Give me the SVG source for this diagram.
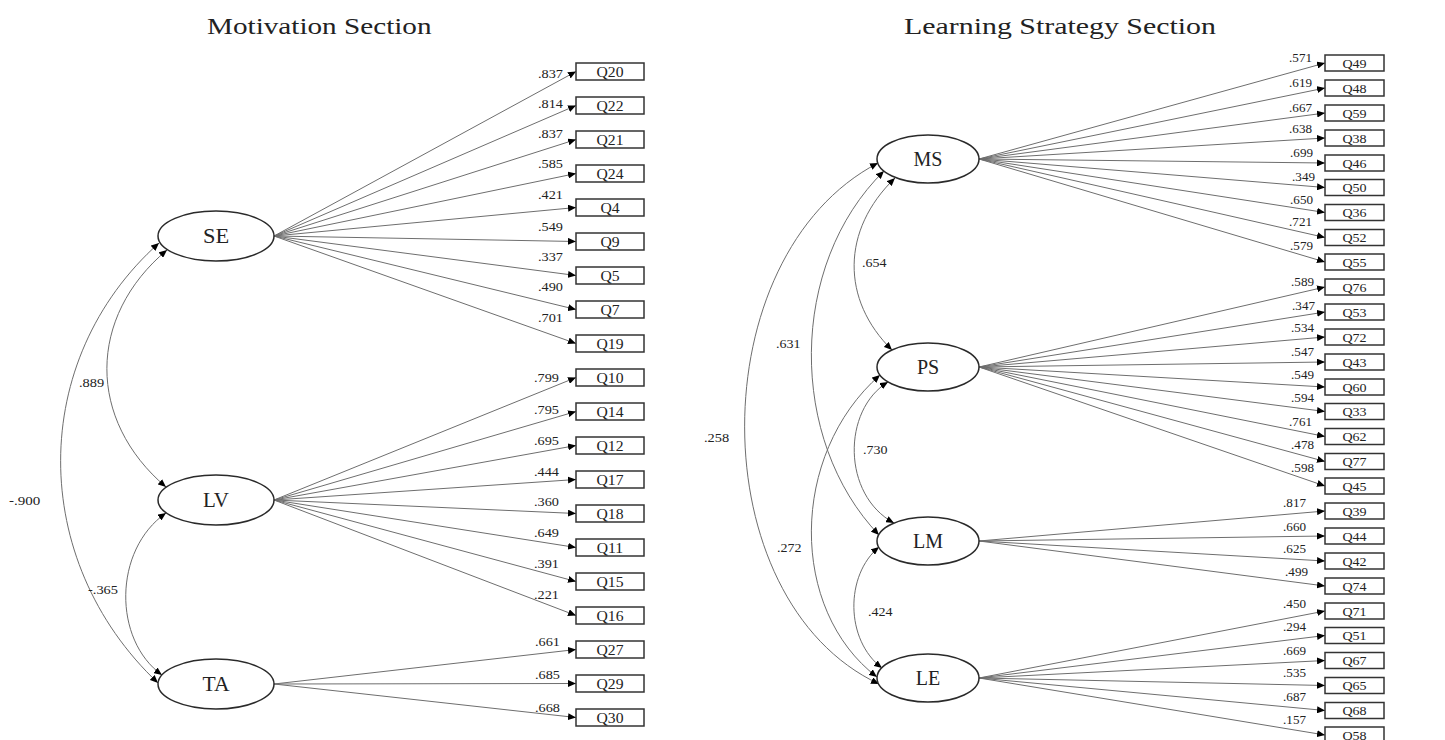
<svg xmlns="http://www.w3.org/2000/svg" width="1445" height="740" viewBox="0 0 1445 740">
<style>
.ln{stroke:#6e6e6e;stroke-width:1;fill:none;marker-end:url(#ah)}
.cv{stroke:#6e6e6e;stroke-width:1;fill:none;marker-start:url(#ah);marker-end:url(#ah)}
.box{fill:#fff;stroke:#333;stroke-width:1.5}
.lat{fill:#fff;stroke:#2a2a2a;stroke-width:1.5}
text{font-family:"Liberation Serif","Times New Roman",serif;fill:#222}
.bl{font-size:14px;text-anchor:middle}
.br{font-size:13px;text-anchor:middle}
.cf{font-size:12px;text-anchor:end}
.cr{font-size:11.5px;text-anchor:end}
.cov{font-size:12px}
.lt{font-size:20px;text-anchor:middle}
.tt{font-size:23px}
</style>
<defs>
<marker id="ah" viewBox="0 0 8 7" refX="8" refY="3.5" markerWidth="8" markerHeight="7" markerUnits="userSpaceOnUse" orient="auto-start-reverse"><path d="M0,0 L8,3.5 L0,7 z" fill="#000"/></marker>
</defs>
<rect width="1445" height="740" fill="#fff"/>
<text class="tt" transform="translate(207,34) scale(1.27,1)">Motivation Section</text>
<text class="tt" transform="translate(904,34) scale(1.3,1)">Learning Strategy Section</text>

<g id="connectors">
<path class="ln" d="M274,236 L576,71.5"/>
<path class="ln" d="M274,236 L576,105.5"/>
<path class="ln" d="M274,236 L576,139.5"/>
<path class="ln" d="M274,236 L576,173.5"/>
<path class="ln" d="M274,236 L576,207.5"/>
<path class="ln" d="M274,236 L576,241.5"/>
<path class="ln" d="M274,236 L576,275.5"/>
<path class="ln" d="M274,236 L576,309.5"/>
<path class="ln" d="M274,236 L576,343.5"/>
<path class="ln" d="M274,500 L576,377.5"/>
<path class="ln" d="M274,500 L576,411.5"/>
<path class="ln" d="M274,500 L576,445.5"/>
<path class="ln" d="M274,500 L576,479.5"/>
<path class="ln" d="M274,500 L576,513.5"/>
<path class="ln" d="M274,500 L576,547.5"/>
<path class="ln" d="M274,500 L576,581.5"/>
<path class="ln" d="M274,500 L576,615.5"/>
<path class="ln" d="M274,684 L576,649.5"/>
<path class="ln" d="M274,684 L576,683.5"/>
<path class="ln" d="M274,684 L576,717.5"/>

<path class="ln" d="M979,159 L1325,63"/>
<path class="ln" d="M979,159 L1325,88"/>
<path class="ln" d="M979,159 L1325,113"/>
<path class="ln" d="M979,159 L1325,138"/>
<path class="ln" d="M979,159 L1325,163"/>
<path class="ln" d="M979,159 L1325,187.5"/>
<path class="ln" d="M979,159 L1325,212.5"/>
<path class="ln" d="M979,159 L1325,237.5"/>
<path class="ln" d="M979,159 L1325,262"/>
<path class="ln" d="M979,367 L1325,287"/>
<path class="ln" d="M979,367 L1325,312"/>
<path class="ln" d="M979,367 L1325,337"/>
<path class="ln" d="M979,367 L1325,362"/>
<path class="ln" d="M979,367 L1325,387"/>
<path class="ln" d="M979,367 L1325,411.5"/>
<path class="ln" d="M979,367 L1325,436.5"/>
<path class="ln" d="M979,367 L1325,461.5"/>
<path class="ln" d="M979,367 L1325,486"/>
<path class="ln" d="M979,541 L1325,511"/>
<path class="ln" d="M979,541 L1325,536"/>
<path class="ln" d="M979,541 L1325,561"/>
<path class="ln" d="M979,541 L1325,586"/>
<path class="ln" d="M979,678 L1325,611"/>
<path class="ln" d="M979,678 L1325,635.5"/>
<path class="ln" d="M979,678 L1325,660.5"/>
<path class="ln" d="M979,678 L1325,685.5"/>
<path class="ln" d="M979,678 L1325,710.5"/>
<path class="ln" d="M979,678 L1325,735"/>

<path class="cv" d="M167,250 C87,317 87,420 166,487"/>
<path class="cv" d="M166,513 C113,550 113,640 162,675"/>
<path class="cv" d="M159,243 C28,360 28,560 158,683"/>
<path class="cv" d="M895,178 C841,230 841,300 892,350"/>
<path class="cv" d="M884,171 C788,265 788,440 879,535"/>
<path class="cv" d="M878,163 C700,256 700,600 879,684"/>
<path class="cv" d="M880,375 C789,455 789,610 877,677"/>
<path class="cv" d="M888,382 C842,410 842,495 894,523"/>
<path class="cv" d="M879,547 C845,575 845,640 882,668"/>

<text class="cf" transform="translate(563,78) scale(1.19,1)">.837</text>
<text class="cf" transform="translate(563,108) scale(1.19,1)">.814</text>
<text class="cf" transform="translate(563,138) scale(1.19,1)">.837</text>
<text class="cf" transform="translate(563,168) scale(1.19,1)">.585</text>
<text class="cf" transform="translate(563,199) scale(1.19,1)">.421</text>
<text class="cf" transform="translate(563,231) scale(1.19,1)">.549</text>
<text class="cf" transform="translate(563,261) scale(1.19,1)">.337</text>
<text class="cf" transform="translate(563,291) scale(1.19,1)">.490</text>
<text class="cf" transform="translate(563,322) scale(1.19,1)">.701</text>
<text class="cf" transform="translate(559,382) scale(1.19,1)">.799</text>
<text class="cf" transform="translate(559,414) scale(1.19,1)">.795</text>
<text class="cf" transform="translate(559,445) scale(1.19,1)">.695</text>
<text class="cf" transform="translate(559,476) scale(1.19,1)">.444</text>
<text class="cf" transform="translate(559,506) scale(1.19,1)">.360</text>
<text class="cf" transform="translate(559,537) scale(1.19,1)">.649</text>
<text class="cf" transform="translate(559,568) scale(1.19,1)">.391</text>
<text class="cf" transform="translate(559,599) scale(1.19,1)">.221</text>
<text class="cf" transform="translate(560,646) scale(1.19,1)">.661</text>
<text class="cf" transform="translate(560,679) scale(1.19,1)">.685</text>
<text class="cf" transform="translate(560,712) scale(1.19,1)">.668</text>

<text class="cr" transform="translate(1312,62) scale(1.14,1)">.571</text>
<text class="cr" transform="translate(1312,87) scale(1.14,1)">.619</text>
<text class="cr" transform="translate(1312,112) scale(1.14,1)">.667</text>
<text class="cr" transform="translate(1312,133) scale(1.14,1)">.638</text>
<text class="cr" transform="translate(1313,157) scale(1.14,1)">.699</text>
<text class="cr" transform="translate(1315,181) scale(1.14,1)">.349</text>
<text class="cr" transform="translate(1313,204) scale(1.14,1)">.650</text>
<text class="cr" transform="translate(1312,226) scale(1.14,1)">.721</text>
<text class="cr" transform="translate(1313,250) scale(1.14,1)">.579</text>
<text class="cr" transform="translate(1314,286) scale(1.14,1)">.589</text>
<text class="cr" transform="translate(1315,310) scale(1.14,1)">.347</text>
<text class="cr" transform="translate(1314,332) scale(1.14,1)">.534</text>
<text class="cr" transform="translate(1314,356) scale(1.14,1)">.547</text>
<text class="cr" transform="translate(1314,379) scale(1.14,1)">.549</text>
<text class="cr" transform="translate(1314,402) scale(1.14,1)">.594</text>
<text class="cr" transform="translate(1312,426) scale(1.14,1)">.761</text>
<text class="cr" transform="translate(1314,449) scale(1.14,1)">.478</text>
<text class="cr" transform="translate(1314,472) scale(1.14,1)">.598</text>
<text class="cr" transform="translate(1306,507) scale(1.14,1)">.817</text>
<text class="cr" transform="translate(1306,531) scale(1.14,1)">.660</text>
<text class="cr" transform="translate(1306,553) scale(1.14,1)">.625</text>
<text class="cr" transform="translate(1308,576) scale(1.14,1)">.499</text>
<text class="cr" transform="translate(1306,608) scale(1.14,1)">.450</text>
<text class="cr" transform="translate(1306,631) scale(1.14,1)">.294</text>
<text class="cr" transform="translate(1306,655) scale(1.14,1)">.669</text>
<text class="cr" transform="translate(1306,677) scale(1.14,1)">.535</text>
<text class="cr" transform="translate(1306,701) scale(1.14,1)">.687</text>
<text class="cr" transform="translate(1306,724) scale(1.14,1)">.157</text>

<text class="cov" transform="translate(79,387) scale(1.2,1)">.889</text>
<text class="cov" transform="translate(88,594) scale(1.2,1)">-.365</text>
<text class="cov" transform="translate(9,505) scale(1.25,1)">-.900</text>
<text class="cov" transform="translate(862,267) scale(1.17,1)">.654</text>
<text class="cov" transform="translate(776,348) scale(1.17,1)">.631</text>
<text class="cov" transform="translate(704,442) scale(1.2,1)">.258</text>
<text class="cov" transform="translate(863,454) scale(1.17,1)">.730</text>
<text class="cov" transform="translate(777,552) scale(1.17,1)">.272</text>
<text class="cov" transform="translate(868,616) scale(1.17,1)">.424</text>
</g>

<g id="SE"><ellipse class="lat" cx="216" cy="236" rx="58" ry="25"/><text class="lt" transform="translate(216,243) scale(1.12,1)">SE</text></g>
<g id="LV"><ellipse class="lat" cx="216" cy="500" rx="58" ry="25"/><text class="lt" transform="translate(216,507) scale(1.05,1)">LV</text></g>
<g id="TA"><ellipse class="lat" cx="216" cy="684" rx="58" ry="25"/><text class="lt" transform="translate(216,691) scale(1.08,1)">TA</text></g>
<g id="MS"><ellipse class="lat" cx="928" cy="159" rx="51" ry="24"/><text class="lt" x="928" y="166">MS</text></g>
<g id="PS"><ellipse class="lat" cx="928" cy="367" rx="51" ry="24"/><text class="lt" x="928" y="374">PS</text></g>
<g id="LM"><ellipse class="lat" cx="928" cy="541" rx="51" ry="24"/><text class="lt" x="928" y="548">LM</text></g>
<g id="LE"><ellipse class="lat" cx="928" cy="678" rx="51" ry="24"/><text class="lt" x="928" y="685">LE</text></g>

<g id="Q20"><rect class="box" x="576" y="63" width="68" height="17"/><text class="bl" transform="translate(610,76.5) scale(1.12,1)">Q20</text></g>
<g id="Q22"><rect class="box" x="576" y="97" width="68" height="17"/><text class="bl" transform="translate(610,110.5) scale(1.12,1)">Q22</text></g>
<g id="Q21"><rect class="box" x="576" y="131" width="68" height="17"/><text class="bl" transform="translate(610,144.5) scale(1.12,1)">Q21</text></g>
<g id="Q24"><rect class="box" x="576" y="165" width="68" height="17"/><text class="bl" transform="translate(610,178.5) scale(1.12,1)">Q24</text></g>
<g id="Q4"><rect class="box" x="576" y="199" width="68" height="17"/><text class="bl" transform="translate(610,212.5) scale(1.12,1)">Q4</text></g>
<g id="Q9"><rect class="box" x="576" y="233" width="68" height="17"/><text class="bl" transform="translate(610,246.5) scale(1.12,1)">Q9</text></g>
<g id="Q5"><rect class="box" x="576" y="267" width="68" height="17"/><text class="bl" transform="translate(610,280.5) scale(1.12,1)">Q5</text></g>
<g id="Q7"><rect class="box" x="576" y="301" width="68" height="17"/><text class="bl" transform="translate(610,314.5) scale(1.12,1)">Q7</text></g>
<g id="Q19"><rect class="box" x="576" y="335" width="68" height="17"/><text class="bl" transform="translate(610,348.5) scale(1.12,1)">Q19</text></g>
<g id="Q10"><rect class="box" x="576" y="369" width="68" height="17"/><text class="bl" transform="translate(610,382.5) scale(1.12,1)">Q10</text></g>
<g id="Q14"><rect class="box" x="576" y="403" width="68" height="17"/><text class="bl" transform="translate(610,416.5) scale(1.12,1)">Q14</text></g>
<g id="Q12"><rect class="box" x="576" y="437" width="68" height="17"/><text class="bl" transform="translate(610,450.5) scale(1.12,1)">Q12</text></g>
<g id="Q17"><rect class="box" x="576" y="471" width="68" height="17"/><text class="bl" transform="translate(610,484.5) scale(1.12,1)">Q17</text></g>
<g id="Q18"><rect class="box" x="576" y="505" width="68" height="17"/><text class="bl" transform="translate(610,518.5) scale(1.12,1)">Q18</text></g>
<g id="Q11"><rect class="box" x="576" y="539" width="68" height="17"/><text class="bl" transform="translate(610,552.5) scale(1.12,1)">Q11</text></g>
<g id="Q15"><rect class="box" x="576" y="573" width="68" height="17"/><text class="bl" transform="translate(610,586.5) scale(1.12,1)">Q15</text></g>
<g id="Q16"><rect class="box" x="576" y="607" width="68" height="17"/><text class="bl" transform="translate(610,620.5) scale(1.12,1)">Q16</text></g>
<g id="Q27"><rect class="box" x="576" y="641" width="68" height="17"/><text class="bl" transform="translate(610,654.5) scale(1.12,1)">Q27</text></g>
<g id="Q29"><rect class="box" x="576" y="675" width="68" height="17"/><text class="bl" transform="translate(610,688.5) scale(1.12,1)">Q29</text></g>
<g id="Q30"><rect class="box" x="576" y="709" width="68" height="17"/><text class="bl" transform="translate(610,722.5) scale(1.12,1)">Q30</text></g>

<g id="Q49"><rect class="box" x="1325" y="55" width="59" height="16"/><text class="br" transform="translate(1354.5,67.5) scale(1.08,1)">Q49</text></g>
<g id="Q48"><rect class="box" x="1325" y="80" width="59" height="16"/><text class="br" transform="translate(1354.5,92.5) scale(1.08,1)">Q48</text></g>
<g id="Q59"><rect class="box" x="1325" y="105" width="59" height="16"/><text class="br" transform="translate(1354.5,117.5) scale(1.08,1)">Q59</text></g>
<g id="Q38"><rect class="box" x="1325" y="130" width="59" height="16"/><text class="br" transform="translate(1354.5,142.5) scale(1.08,1)">Q38</text></g>
<g id="Q46"><rect class="box" x="1325" y="155" width="59" height="16"/><text class="br" transform="translate(1354.5,167.5) scale(1.08,1)">Q46</text></g>
<g id="Q50"><rect class="box" x="1325" y="179.5" width="59" height="16"/><text class="br" transform="translate(1354.5,192) scale(1.08,1)">Q50</text></g>
<g id="Q36"><rect class="box" x="1325" y="204.5" width="59" height="16"/><text class="br" transform="translate(1354.5,217) scale(1.08,1)">Q36</text></g>
<g id="Q52"><rect class="box" x="1325" y="229.5" width="59" height="16"/><text class="br" transform="translate(1354.5,242) scale(1.08,1)">Q52</text></g>
<g id="Q55"><rect class="box" x="1325" y="254" width="59" height="16"/><text class="br" transform="translate(1354.5,266.5) scale(1.08,1)">Q55</text></g>
<g id="Q76"><rect class="box" x="1325" y="279" width="59" height="16"/><text class="br" transform="translate(1354.5,291.5) scale(1.08,1)">Q76</text></g>
<g id="Q53"><rect class="box" x="1325" y="304" width="59" height="16"/><text class="br" transform="translate(1354.5,316.5) scale(1.08,1)">Q53</text></g>
<g id="Q72"><rect class="box" x="1325" y="329" width="59" height="16"/><text class="br" transform="translate(1354.5,341.5) scale(1.08,1)">Q72</text></g>
<g id="Q43"><rect class="box" x="1325" y="354" width="59" height="16"/><text class="br" transform="translate(1354.5,366.5) scale(1.08,1)">Q43</text></g>
<g id="Q60"><rect class="box" x="1325" y="379" width="59" height="16"/><text class="br" transform="translate(1354.5,391.5) scale(1.08,1)">Q60</text></g>
<g id="Q33"><rect class="box" x="1325" y="403.5" width="59" height="16"/><text class="br" transform="translate(1354.5,416) scale(1.08,1)">Q33</text></g>
<g id="Q62"><rect class="box" x="1325" y="428.5" width="59" height="16"/><text class="br" transform="translate(1354.5,441) scale(1.08,1)">Q62</text></g>
<g id="Q77"><rect class="box" x="1325" y="453.5" width="59" height="16"/><text class="br" transform="translate(1354.5,466) scale(1.08,1)">Q77</text></g>
<g id="Q45"><rect class="box" x="1325" y="478" width="59" height="16"/><text class="br" transform="translate(1354.5,490.5) scale(1.08,1)">Q45</text></g>
<g id="Q39"><rect class="box" x="1325" y="503" width="59" height="16"/><text class="br" transform="translate(1354.5,515.5) scale(1.08,1)">Q39</text></g>
<g id="Q44"><rect class="box" x="1325" y="528" width="59" height="16"/><text class="br" transform="translate(1354.5,540.5) scale(1.08,1)">Q44</text></g>
<g id="Q42"><rect class="box" x="1325" y="553" width="59" height="16"/><text class="br" transform="translate(1354.5,565.5) scale(1.08,1)">Q42</text></g>
<g id="Q74"><rect class="box" x="1325" y="578" width="59" height="16"/><text class="br" transform="translate(1354.5,590.5) scale(1.08,1)">Q74</text></g>
<g id="Q71"><rect class="box" x="1325" y="603" width="59" height="16"/><text class="br" transform="translate(1354.5,615.5) scale(1.08,1)">Q71</text></g>
<g id="Q51"><rect class="box" x="1325" y="627.5" width="59" height="16"/><text class="br" transform="translate(1354.5,640) scale(1.08,1)">Q51</text></g>
<g id="Q67"><rect class="box" x="1325" y="652.5" width="59" height="16"/><text class="br" transform="translate(1354.5,665) scale(1.08,1)">Q67</text></g>
<g id="Q65"><rect class="box" x="1325" y="677.5" width="59" height="16"/><text class="br" transform="translate(1354.5,690) scale(1.08,1)">Q65</text></g>
<g id="Q68"><rect class="box" x="1325" y="702.5" width="59" height="16"/><text class="br" transform="translate(1354.5,715) scale(1.08,1)">Q68</text></g>
<g id="Q58"><rect class="box" x="1325" y="727" width="59" height="16"/><text class="br" transform="translate(1354.5,739.5) scale(1.08,1)">Q58</text></g>
</svg>
